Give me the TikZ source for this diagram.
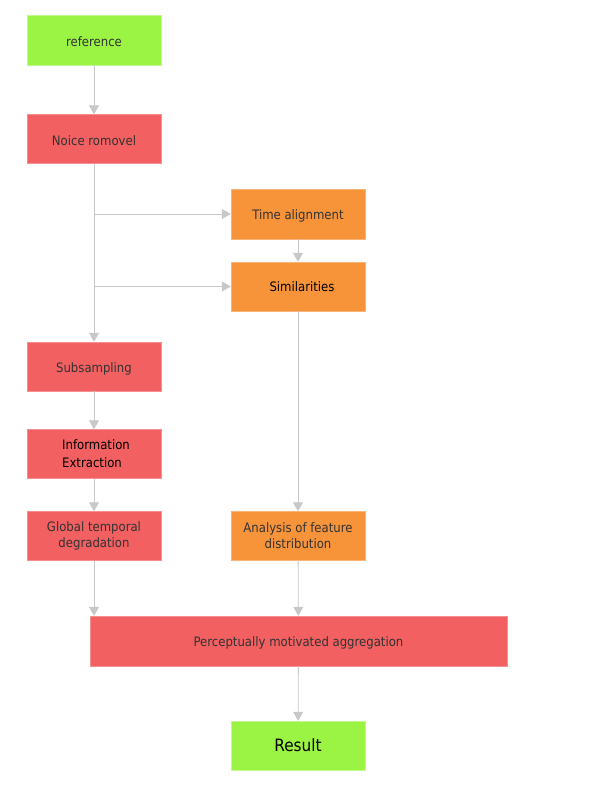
\documentclass[tikz,border=0pt]{standalone}
\usepackage{fontspec}
\setmainfont{DejaVu Sans Condensed}
\usetikzlibrary{arrows.meta}
\definecolor{boxgreen}{RGB}{155,243,68}
\definecolor{boxred}{RGB}{242,96,97}
\definecolor{boxorange}{RGB}{247,148,58}
\definecolor{linegray}{RGB}{200,200,200}
\definecolor{textgray}{RGB}{51,51,51}
\newcommand{\dropped}[1]{\raisebox{-2pt}[\height][\depth]{#1}}
\begin{document}
\begin{tikzpicture}[x=1pt,y=-1pt,
  box/.style={minimum width=134pt, minimum height=49pt, inner sep=0pt, align=center, font=\fontsize{13}{16}\selectfont, text=textgray},
  greenbox/.style={box, fill=boxgreen, draw=boxgreen!60!white},
  redbox/.style={box, fill=boxred, draw=boxred!70!white},
  orangebox/.style={box, fill=boxorange, draw=boxorange!70!white},
  link/.style={draw=linegray, line width=0.8pt, -{Triangle[width=10pt,length=9pt]}}]
\useasboundingbox (0,0) rectangle (603,786);
\node[greenbox, minimum height=50pt] (reference) at (94,40) {\dropped{reference}};
\node[redbox] (noise) at (94,139) {\dropped{Noice romovel}};
\node[orangebox, minimum height=50pt] (time) at (298,214) {\dropped{Time alignment}};
\node[orangebox, text=black] (similar) at (298,286.5) {\hspace*{8pt}Similarities};
\node[redbox] (subsample) at (94,366.5) {\dropped{Subsampling}};
\node[redbox, align=left, text=black, font=\fontsize{13}{18}\selectfont] (info) at (94,454) {\hspace*{4pt}Information\\\hspace*{4pt}Extraction};
\node[redbox, font=\fontsize{13}{16}\selectfont] (global) at (94,536) {Global temporal\\degradation};
\node[orangebox, font=\fontsize{13}{16}\selectfont] (analysis) at (298,536) {Analysis of feature\\distribution};
\node[redbox, minimum width=417pt, minimum height=50pt] (aggregate) at (298.5,641) {\dropped{Perceptually motivated aggregation}};
\node[greenbox, text=black, font=\fontsize{17}{20}\selectfont] (result) at (298,745.5) {Result};
\draw[link] (reference) -- (noise);
\draw[link] (noise) -- (subsample);
\draw[link] (noise.south |- time.west) -- (time.west);
\draw[link] (noise.south |- similar.west) -- (similar.west);
\draw[link] (time) -- (similar);
\draw[link] (similar) -- (analysis);
\draw[link] (subsample) -- (info);
\draw[link] (info) -- (global);
\draw[link] (global) -- (global |- aggregate.north);
\draw[link] (analysis) -- (aggregate);
\draw[link] (aggregate) -- (result);
\end{tikzpicture}
\end{document}
